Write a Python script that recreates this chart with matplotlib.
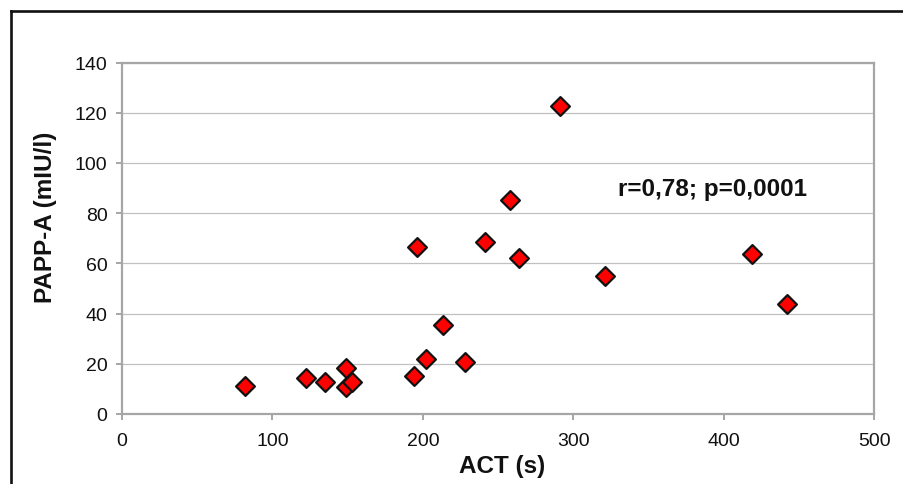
import matplotlib
matplotlib.use("Agg")
import matplotlib.pyplot as plt
from matplotlib.lines import Line2D

plt.rcParams['font.family'] = ['Liberation Sans', 'DejaVu Sans']

# Data
act_s = [81.7, 122.0, 135.1, 149.0, 148.8, 153.0, 193.8, 202.2, 228.1,
         290.8, 257.8, 195.8, 240.9, 263.7, 320.9, 418.7, 441.8, 213.0]
papp_a = [11.0, 14.3, 12.9, 18.2, 10.6, 12.9, 15.1, 21.9, 20.8,
          122.7, 85.1, 66.4, 68.6, 62.1, 54.8, 63.7, 43.7, 35.4]
x_ticks = [0, 100, 200, 300, 400, 500]
y_ticks = [0, 20, 40, 60, 80, 100, 120, 140]
x_label = "ACT (s)"
y_label = "PAPP-A (mIU/l)"
annotation = "r=0,78; p=0,0001"

W, H = 904, 485
fig = plt.figure(figsize=(W / 100, H / 100), dpi=100)
ax = fig.add_axes([122 / W, 1 - 415 / H, 752.5 / W, 351.5 / H])

ax.set_xlim(0, 500)
ax.set_ylim(0, 140)
ax.set_xticks(x_ticks)
ax.set_yticks(y_ticks)

axis_gray = '#A6A6A6'
for s in ax.spines.values():
    s.set_color(axis_gray)
    s.set_linewidth(1.6)

ax.yaxis.grid(True, color='#C0C0C0', linewidth=0.9)
ax.set_axisbelow(True)

ax.tick_params(axis='both', direction='out', length=4.5, width=1.4,
               color=axis_gray, labelsize=14, labelcolor='#111111')
ax.tick_params(axis='y', pad=6)
ax.tick_params(axis='x', pad=8.5)

ax.scatter(act_s, papp_a, marker='D', s=92, facecolor='#FF0000',
           edgecolor='#111111', linewidth=1.6, zorder=3, clip_on=False)

ax.set_xlabel(x_label, fontsize=17.5, fontweight='bold', color='#111111', va='center')
ax.xaxis.set_label_coords(0.5046, -0.147)
ax.set_ylabel(y_label, fontsize=17.5, fontweight='bold', color='#111111', va='center')
ax.yaxis.set_label_coords(-0.101, 0.562)

ax.text(392.6, 90.0, annotation, ha='center', va='center',
        fontsize=17.5, fontweight='bold', color='#111111')

# Outer chart frame (top and left edges visible)
fw = 1.9
fig.add_artist(Line2D([10.5 / W, 1.05], [1 - 11.5 / H, 1 - 11.5 / H],
                      transform=fig.transFigure, color='#111111', linewidth=fw))
fig.add_artist(Line2D([10.5 / W, 10.5 / W], [1 - 11.5 / H, -0.05],
                      transform=fig.transFigure, color='#111111', linewidth=fw))

fig.savefig("out.png", dpi=100)
